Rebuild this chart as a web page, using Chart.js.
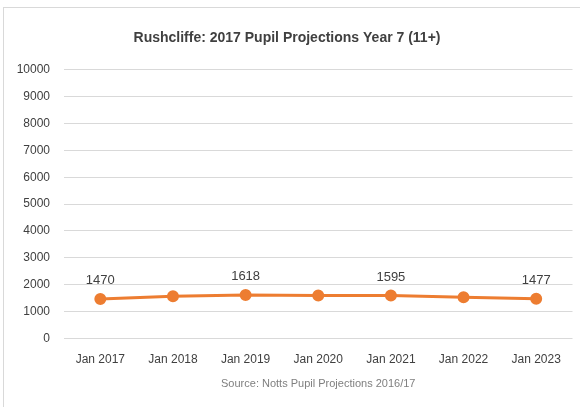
<!DOCTYPE html>
<html>
<head>
<meta charset="utf-8">
<script src="https://cdn.jsdelivr.net/npm/chart.js@4/dist/chart.umd.min.js"></script>
<style>
  html, body { margin: 0; padding: 0; background: #fff; }
  #frame { position: absolute; left: 3px; top: 7px; width: 600px; height: 420px; border: 1px solid #d9d9d9; }
  #wrap { position: absolute; left: 0; top: 0; width: 580px; height: 407px; }
</style>
</head>
<body>
<div id="frame"></div>
<div id="wrap"><canvas id="chart"></canvas></div>
<script>
// values
const years = ['Jan 2017', 'Jan 2018', 'Jan 2019', 'Jan 2020', 'Jan 2021', 'Jan 2022', 'Jan 2023']
const pupils = [1470, 1565, 1618, 1600, 1595, 1535, 1477]
// only every other point has a label in the original
const labelled = [0, 2, 4, 6]

const font = "'Liberation Sans', Arial, sans-serif"

// draws the number above the labelled points
const pointLabels = {
  id: 'pointLabels',
  afterDatasetsDraw(chart) {
    const ctx = chart.ctx
    const meta = chart.getDatasetMeta(0)
    ctx.save()
    ctx.font = '13px ' + font
    ctx.fillStyle = '#404040'
    ctx.textAlign = 'center'
    ctx.textBaseline = 'bottom'
    labelled.forEach(i => {
      const pt = meta.data[i]
      ctx.fillText(String(pupils[i]), pt.x, pt.y - 12)
    })
    ctx.restore()
  }
}

var ctx = document.getElementById('chart')
var myChart = new Chart(ctx, {
  type: 'line',
  data: {
    labels: years,
    datasets: [{
      label: 'Year 7 (11+)',
      data: pupils,
      borderColor: '#ED7D31',
      backgroundColor: '#ED7D31',
      borderWidth: 3,
      pointRadius: 4.5,
      pointHoverRadius: 4.5,
      fill: false,
      tension: 0
    }]
  },
  options: {
    responsive: true,
    maintainAspectRatio: false,
    animation: false,
    layout: { padding: { left: 0, right: 6, top: 0, bottom: 16 } },
    plugins: {
      legend: { display: false },
      tooltip: { enabled: false },
      title: {
        display: true,
        text: 'Rushcliffe: 2017 Pupil Projections Year 7 (11+)',
        color: '#404040',
        font: { family: font, size: 14, weight: 'bold' },
        padding: { top: 30, bottom: 23 }
      }
    },
    scales: {
      x: {
        offset: true,
        grid: { display: false, offset: true },
        border: { display: false },
        ticks: { color: '#404040', font: { family: font, size: 12 }, padding: 6 },
        title: {
          display: true,
          text: 'Source: Notts Pupil Projections 2016/17',
          color: '#7f7f7f',
          font: { family: font, size: 11 },
          padding: { top: 5, bottom: 0 }
        }
      },
      y: {
        min: 0,
        max: 10000,
        ticks: {
          stepSize: 1000,
          color: '#404040',
          font: { family: font, size: 12 },
          padding: 14,
          callback: v => String(v)
        },
        grid: { color: '#d9d9d9', lineWidth: 1, drawTicks: false },
        border: { display: false },
        afterFit(scale) { scale.width = 64 }
      }
    }
  },
  plugins: [pointLabels]
})
</script>
</body>
</html>
